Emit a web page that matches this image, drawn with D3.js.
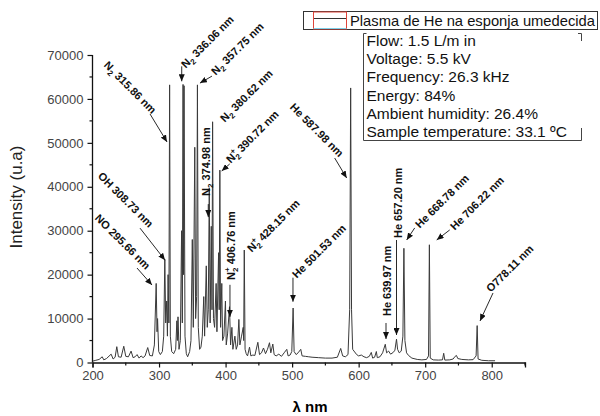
<!DOCTYPE html>
<html><head><meta charset="utf-8">
<script src="https://cdn.jsdelivr.net/npm/d3@7"></script>
<style>body{margin:0;background:#fff}svg{display:block}</style>
</head><body><svg id="c" width="600" height="416"></svg>
<script>
// ---- data ----
const spectrumWl = [200,205,210,214.6,217,221,228,231,234,236.5,239,243,247,250,254,258,261,264,267,270,273,276,279,283,286,290,293,295.7,297,297.8,299.5,302,305,307,308.7,310,311.5,312.6,313.6,314.8,315.9,317,319,322,325,326.8,327.6,328.5,330,332,333.9,335,336.1,336.8,337.6,339,341,343,346,348,350,351.5,353.7,355,356.5,357.7,359,361,363,365,367.2,368.5,371,372.5,374,375.5,376.8,378.5,379.6,380.5,381.8,383.5,385.8,387,389.5,390.4,391.4,392.5,394.3,395.5,397.5,399.8,401,403,405.9,407.5,409.5,411,414,416,418,420,421.5,424,426.5,427.2,428.1,429.3,431,433,436,438,441,444,448.5,451,454,457,460,463,466,468,471,473,476,480,484,488,492,494,497,499.5,501.5,503,506,509,513,515,520,525,530,540,550,560,568,573,576,580,584,586.5,588,589.3,591,594,597,600,604,608,612,616,619,621,624,626.6,628,632,636,640,642,645,648,652,654.5,656.9,658.5,661,664,666.5,668,669.5,672,675,680,688,695,702,705,706.3,707.6,712,720,726,727.8,729.5,737,742,745,747,749,755,765,772,776.5,778.1,779.5,785,795,805];
const spectrumI = [300,500,700,1300,600,900,1900,800,1200,3600,1300,1200,3700,1400,1300,2600,1100,1300,1800,1000,1500,1100,1500,3400,1600,1500,4000,18000,7000,10000,2500,1800,2500,6000,23500,9000,14000,6000,20000,9000,63200,6000,2500,2000,3000,9500,5000,10400,3000,5000,30000,9000,63300,20000,63000,6000,2000,1300,2500,5000,28000,8000,49000,10000,15000,63200,8000,3000,3500,6000,15000,6000,22000,8000,12000,39700,9000,31000,12000,54800,10000,8000,18000,7000,25000,12000,43800,8000,18000,5000,6000,14000,4000,6500,12700,4000,8000,3000,6000,3000,4000,9800,4000,6000,8000,5000,25600,3000,2000,1500,3500,1500,1700,1600,4600,1800,2200,3300,2000,3000,4500,2200,4200,1800,1500,1900,1400,2200,3000,1500,1700,2500,12400,2500,1800,2200,3000,1500,1400,1300,1200,1100,1000,1000,1200,3200,1500,1300,1800,12000,62500,12000,3000,2400,1800,1500,1700,1300,1100,1400,2300,1000,1200,2500,1100,1300,2200,4150,2200,2600,1900,2300,2800,5300,3000,2200,2600,6000,26000,5000,2200,1600,1000,700,600,700,1500,26800,1000,600,550,600,2100,550,600,800,1400,1600,900,700,600,650,1500,8400,800,500,400,400];
const xTicks = [200,300,400,500,600,700,800];
const yTicks = [0,10000,20000,30000,40000,50000,60000,70000];
const legendLabel = "Plasma de He na esponja umedecida";
const infoLines = ["Flow: 1.5 L/m in","Voltage: 5.5 kV","Frequency: 26.3 kHz","Energy: 84%","Ambient humidity: 26.4%","Sample temperature: 33.1 ºC"];
// annotation texts ("_" subscript, "^" superscript) and arrow tips in data units
const annLabels = ["N_2 315.86 nm","N_2 336.06 nm","N_2 357.75 nm","N_2 380.62 nm","N^+_2 390.72 nm","N_2 374.98 nm","N^+_2 406.76 nm","N^+_2 428.15 nm","He 587.98 nm","He 501.53 nm","He 639.97 nm","He 657.20 nm","He 668.78 nm","He 706.22 nm","O778.11 nm","OH 308.73 nm","NO 295.66 nm"];
const annTipWl = [312.0,334.1,361.5,null,394.2,374.0,406.6,null,582.0,501.3,641.1,656.9,672.2,717.3,782.4,309.0,289.4];
const annTipI  = [50200,64000,63600,null,43600,33100,10400,null,42000,13840,5350,6260,27900,27900,9450,23300,17640];

// ---- layout ----
const svg = d3.select("#c");
const x = d3.scaleLinear().domain([200,850]).range([92.5,525]);
const y = d3.scaleLinear().domain([0,70000]).range([362.5,55]);
const FONT = "'Liberation Sans', Arial, sans-serif";

// axes
const xAxis = d3.axisBottom(x).tickValues(xTicks).tickSize(5).tickPadding(3).tickFormat(d3.format("d"));
const gx = svg.append("g").attr("transform",`translate(0,${y(0)})`).call(xAxis);
const yAxis = d3.axisLeft(y).tickValues(yTicks).tickSize(5).tickPadding(4).tickFormat(d3.format("d"));
const gy = svg.append("g").attr("transform",`translate(${x(200)},0)`).call(yAxis);
[gx,gy].forEach(g=>{
  g.select(".domain").attr("stroke","#111").attr("stroke-width",1.3);
  g.selectAll(".tick line").attr("stroke","#111").attr("stroke-width",1.2);
  g.selectAll(".tick text").attr("font-family",FONT).attr("font-size",13).attr("fill","#444");
});
gy.select(".domain").attr("d",`M0,${y(0)}V${y(70000)}`);
// minor ticks
const xMinor = d3.range(250,851,100);
svg.append("g").selectAll("line").data(xMinor).join("line")
  .attr("x1",d=>x(d)).attr("x2",d=>x(d)).attr("y1",y(0)).attr("y2",y(0)+3)
  .attr("stroke","#111").attr("stroke-width",1.2);
const yMinor = d3.range(5000,70000,10000);
svg.append("g").selectAll("line").data(yMinor).join("line")
  .attr("x1",x(200)-3).attr("x2",x(200)).attr("y1",d=>y(d)).attr("y2",d=>y(d))
  .attr("stroke","#111").attr("stroke-width",1.2);

// axis titles
svg.append("text").attr("x",310).attr("y",411.5).attr("text-anchor","middle")
  .attr("font-family",FONT).attr("font-size",15).attr("font-weight","bold").text("λ nm");
svg.append("text").attr("transform","translate(22,197) rotate(-90)").attr("text-anchor","middle")
  .attr("font-family",FONT).attr("font-size",17).attr("fill","#222").text("Intensity (u.a)");

// spectrum
const pts = spectrumWl.map((w,i)=>[w,spectrumI[i]]);
svg.append("path").datum(pts)
  .attr("d",d3.line().x(d=>x(d[0])).y(d=>y(d[1])))
  .attr("fill","none").attr("stroke","#3a3a3a").attr("stroke-width",1).attr("stroke-linejoin","round");

// arrow marker
svg.append("defs").append("marker").attr("id","ah").attr("markerUnits","userSpaceOnUse")
  .attr("markerWidth",7).attr("markerHeight",6).attr("refX",7).attr("refY",3).attr("orient","auto")
  .append("path").attr("d","M0,0L7,3L0,6Z").attr("fill","#111");

// label placements (pixel layout): [x, y, angle] of text start, and arrow tail offsets from tip
const annPos = [[106,63,45],[183,66,-45],[213,73,-45],[222,120,-45],[228,161,-45],[206,196,-90],[231,280,-90],[249,250,-45],[292,105,45],[294,276,-45],[387,316,-90],[398,238,-90],[417,226,-45],[452,228,-45],[488,290,-45],[100,174,45],[97,216,45]];
const annTail = [[-17,-28],[0,-15],[12,-7],null,[8,-7],[0,-13],[0,-32],null,[-12,-20],[0,-24],[0,-16],[0,-95],[8,-12],[13,-10],[13,-28],[-25,-32],[-15,-17]];

annLabels.forEach((lab,i)=>{
  const [px,py,ang] = annPos[i];
  const t = svg.append("text").attr("transform",`translate(${px},${py}) rotate(${ang})`)
    .attr("font-family",FONT).attr("font-size",11).attr("font-weight","bold")
    .attr("dominant-baseline","central").attr("fill","#111");
  const m = lab.match(/^(\w)(\^\+)?(_2)?(.*)$/);
  if (m && (m[2]||m[3])) {
    t.append("tspan").text(m[1]);
    if (m[2]) t.append("tspan").attr("font-size",8).attr("dy",-4).text("+");
    if (m[3]) t.append("tspan").attr("font-size",8).attr("dx",m[2]?-4.5:0).attr("dy",m[2]?8:4).text("2");
    t.append("tspan").attr("dy",-4).text(m[4]);
  } else t.text(lab);
  if (annTipWl[i]!==null) {
    const tx = x(annTipWl[i]), ty = y(annTipI[i]);
    svg.append("line").attr("x1",tx+annTail[i][0]).attr("y1",ty+annTail[i][1])
      .attr("x2",tx).attr("y2",ty).attr("stroke","#111").attr("stroke-width",0.9)
      .attr("marker-end","url(#ah)");
  }
});

// legend
svg.append("rect").attr("x",303.5).attr("y",11.5).attr("width",294).attr("height",18)
  .attr("fill","#fff").attr("stroke","#333").attr("stroke-width",1);
svg.append("rect").attr("x",313.5).attr("y",12).attr("width",33).attr("height",17)
  .attr("fill","none").attr("stroke","#e0443a").attr("stroke-width",1);
svg.append("line").attr("x1",313.5).attr("x2",346.5).attr("y1",28.5).attr("y2",28.5).attr("stroke","#7fd0e8");
svg.append("line").attr("x1",314).attr("x2",346).attr("y1",18.5).attr("y2",18.5).attr("stroke","#333").attr("stroke-width",1);
svg.append("text").attr("x",350).attr("y",26).attr("font-family",FONT).attr("font-size",14.6)
  .attr("textLength",245).attr("lengthAdjust","spacingAndGlyphs").attr("fill","#111").text(legendLabel);

// info box
svg.append("path").attr("d","M366.5,33.5H363.5V140.5H581.5V128M578,33.5H581.5V41")
  .attr("fill","none").attr("stroke","#444").attr("stroke-width",1);
svg.append("g").selectAll("text").data(infoLines).join("text")
  .attr("x",366.5).attr("y",(d,i)=>46+i*18.2)
  .attr("font-family",FONT).attr("font-size",15.5).attr("fill","#111").text(d=>d);
</script></body></html>
